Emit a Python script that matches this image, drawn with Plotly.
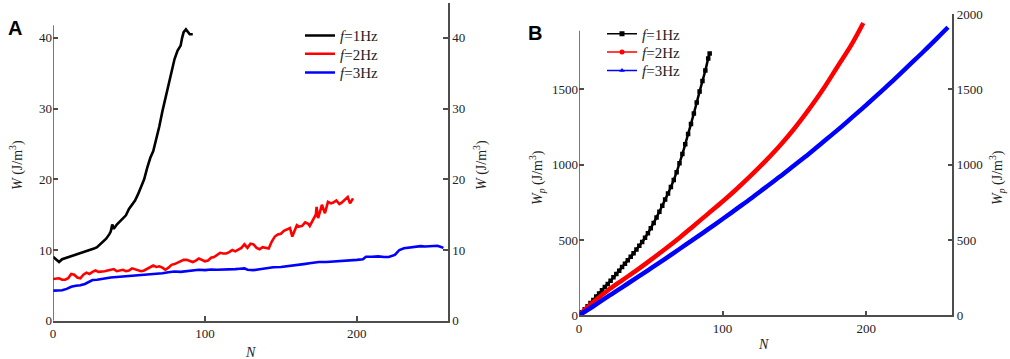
import plotly.graph_objects as go

# ---------------- Panel A data ----------------
N_A1 = [0, 2, 4, 6, 9, 12, 15, 18, 21, 24, 27, 29, 31, 33, 35, 37, 38, 39, 40, 42, 44, 46, 48, 50,
        52, 54, 56, 58, 60, 62, 64, 66, 68, 70, 72, 74, 76, 78, 80, 82, 84, 85, 86, 87.5, 89, 90, 92]
W_A1 = [9.05, 8.6, 8.3, 8.7, 8.9, 9.1, 9.3, 9.5, 9.7, 10.0, 10.2, 10.4, 10.8, 11.3, 11.6, 12.2, 12.6,
        13.6, 13.0, 13.6, 14.0, 14.4, 14.9, 15.8, 16.4, 17.0, 17.9, 18.9, 20.0, 21.6, 23.0, 24.0, 25.6,
        27.5, 29.6, 31.5, 33.2, 35.0, 37.0, 38.2, 38.9, 40.0, 40.8, 41.2, 40.8, 40.5, 40.5]

N_A2 = [0, 2, 4, 6, 8, 10, 12, 14, 16, 18, 20, 22, 24, 26, 28, 30, 32, 34, 36, 38, 40, 42, 44, 46, 48,
        50, 52, 54, 56, 58, 60, 62, 64, 66, 68, 70, 72, 74, 76, 78, 80, 82, 84, 86, 88, 90, 92, 94, 96,
        98, 100, 102, 104, 106, 108, 110, 112, 114, 116, 118, 120, 122, 124, 126, 128, 130, 132, 134,
        136, 138, 140, 142, 144, 146, 148, 150, 152, 154, 156, 157.5, 159, 160.5, 162, 164, 166, 168,
        169, 171, 173, 173.5, 174.5, 176, 177, 179, 181, 183, 184.5, 186.5, 188.5, 190, 192, 194,
        195.5, 197.5]
W_A2 = [5.9, 5.9, 6.0, 5.8, 5.8, 6.0, 6.6, 6.5, 6.1, 6.0, 6.5, 6.8, 6.6, 6.9, 7.1, 6.9, 6.9, 7.0, 7.1,
        7.2, 7.3, 7.0, 7.1, 7.2, 7.0, 7.1, 7.4, 7.3, 7.1, 7.0, 7.1, 7.3, 7.5, 7.8, 7.6, 7.7, 7.5, 7.2,
        7.5, 7.9, 8.0, 8.2, 8.4, 8.6, 8.6, 8.4, 8.3, 8.5, 8.8, 8.6, 8.4, 8.5, 8.9, 9.0, 9.3, 9.6, 9.5,
        9.5, 9.7, 10.0, 9.8, 10.1, 10.3, 10.8, 10.3, 10.9, 10.8, 10.3, 10.1, 10.4, 10.3, 10.2, 11.2,
        11.9, 12.2, 12.3, 12.7, 12.9, 13.1, 11.9, 12.8, 13.5, 13.3, 13.4, 13.9, 13.7, 13.4, 14.3, 15.0,
        16.1, 14.5, 15.6, 16.4, 15.2, 16.8, 16.6, 16.7, 17.0, 16.5, 16.7, 17.1, 17.5, 16.6, 17.3]

N_A3 = [0, 3, 6, 9, 12, 15, 18, 21, 23, 26, 29, 32, 35, 38, 41, 44, 48, 52, 56, 60, 64, 68, 72, 76, 80,
        84, 88, 92, 96, 100, 104, 108, 112, 116, 120, 123, 126, 128, 132, 136, 140, 145, 150, 155, 160,
        165, 170, 175, 180, 185, 190, 195, 200, 204, 206, 210, 214, 218, 221, 225, 228, 231, 234, 237,
        240, 242, 245, 248, 250, 253, 255, 257]
W_A3 = [4.25, 4.25, 4.3, 4.5, 4.8, 4.95, 5.0, 5.2, 5.4, 5.75, 5.8, 5.85, 6.0, 6.1, 6.15, 6.2, 6.25,
        6.35, 6.4, 6.5, 6.6, 6.6, 6.7, 6.85, 6.95, 6.9, 7.0, 7.05, 7.2, 7.15, 7.25, 7.2, 7.2, 7.3, 7.3,
        7.35, 7.4, 7.2, 7.15, 7.27, 7.4, 7.55, 7.6, 7.7, 7.85, 8.0, 8.15, 8.3, 8.3, 8.35, 8.4, 8.5, 8.6,
        8.7, 9.05, 9.05, 9.1, 9.0, 9.0, 9.3, 10.0, 10.25, 10.35, 10.4, 10.45, 10.55, 10.5, 10.55,
        10.65, 10.6, 10.45, 10.3]

# ---------------- Panel B data ----------------
N_B1 = [0, 2, 4, 6, 8, 10, 12, 14, 16, 18, 20, 22, 24, 26, 28, 30, 32, 34, 36, 38, 40, 42, 44, 46,
        48, 50, 52, 54, 56, 58, 60, 62, 64, 66, 68, 70, 72, 74, 76, 78, 80, 82, 84, 86, 88, 90, 91]
W_B1 = [0, 20, 40, 60, 81, 102, 124, 145, 166, 188, 208, 229, 252, 274, 296, 320, 343, 366, 388, 412,
        437, 462, 487, 515, 545, 578, 613, 650, 688, 728, 768, 809, 852, 898, 950, 1010, 1070, 1136,
        1204, 1270, 1340, 1412, 1485, 1555, 1625, 1705, 1738]

N_B2 = [0, 5, 10, 20, 30, 40, 50, 60, 70, 80, 90, 100, 110, 120, 130, 140, 150, 160, 170, 180, 190, 198]
W_B2 = [0, 45, 88, 165, 232, 298, 368, 440, 515, 595, 675, 755, 840, 930, 1025, 1127, 1240, 1365,
        1500, 1650, 1800, 1940]

N_B3 = [0, 10, 20, 30, 40, 50, 60, 70, 80, 90, 100, 110, 120, 130, 140, 150, 160, 170, 180, 190, 200,
        210, 220, 230, 240, 250, 257]
W_B3 = [0, 60, 124, 186, 248, 311, 375, 440, 505, 572, 639, 708, 777, 849, 921, 996, 1071, 1150, 1229,
        1312, 1395, 1482, 1569, 1660, 1751, 1845, 1912]

names = ["<i>f</i>=1Hz", "<i>f</i>=2Hz", "<i>f</i>=3Hz"]
colors = ["#000000", "#ff0000", "#0000ff"]
symbols = ["square", "circle", "triangle-up"]

W_px, H_px = 1010, 359
SERIF = "Liberation Serif"
AX = "#4d4d4d"
TXT = "#222222"

fig = go.Figure()

# legend item positions (pixels, text start x / row centre y)
legA_x, legA_y = 341, [35.7, 54.0, 72.7]
legB_x, legB_y = 643, [34.0, 52.3, 70.7]
legA_ids = ["legend", "legend2", "legend3"]
legB_ids = ["legend4", "legend5", "legend6"]

# Panel A
for xs, ys, nm, c, lg in zip([N_A1, N_A2, N_A3], [W_A1, W_A2, W_A3], names, colors, legA_ids):
    fig.add_trace(go.Scatter(x=xs, y=ys, mode="lines", name=nm, line=dict(color=c, width=2.6),
                             xaxis="x", yaxis="y", legend=lg))
fig.add_trace(go.Scatter(x=[None], y=[None], mode="lines", xaxis="x", yaxis="y2",
                         showlegend=False, hoverinfo="skip"))

# Panel B
fig.add_trace(go.Scatter(x=N_B1, y=W_B1, mode="lines+markers",
                         line=dict(color=colors[0], width=2.5, shape="spline"),
                         marker=dict(symbol="square", size=4.5, color=colors[0]),
                         xaxis="x2", yaxis="y3", showlegend=False))
fig.add_trace(go.Scatter(x=N_B2, y=W_B2, mode="lines", line=dict(color=colors[1], width=4.5, shape="spline"),
                         xaxis="x2", yaxis="y3", showlegend=False))
fig.add_trace(go.Scatter(x=N_B3, y=W_B3, mode="lines", line=dict(color=colors[2], width=4.5, shape="spline"),
                         xaxis="x2", yaxis="y3", showlegend=False))
for nm, c, s, lg in zip(names, colors, symbols, legB_ids):
    fig.add_trace(go.Scatter(x=[None], y=[None], mode="lines+markers", name=nm,
                             line=dict(color=c, width=1.5), marker=dict(symbol=s, size=5, color=c),
                             xaxis="x2", yaxis="y4", legend=lg))

def tickfont():
    return dict(family=SERIF, size=13, color=TXT)

def xax(**kw):
    return dict(showgrid=False, zeroline=False, showline=True, linecolor=AX, linewidth=1.5,
                ticks="inside", ticklen=5, tickcolor=AX, tickwidth=1.5, tickfont=tickfont(), **kw)

def yax(**kw):
    return dict(showgrid=False, zeroline=False, ticks="inside", ticklen=5, tickcolor=AX,
                tickwidth=1.5, tickfont=tickfont(), **kw)

domA_x = [53 / W_px, 448 / W_px]
domB_x = [579 / W_px, 952.3 / W_px]
domA_y = [1 - 320.7 / H_px, 1 - 2.5 / H_px]
domB_y = [1 - 315.3 / H_px, 1 - 14 / H_px]

layout = dict(
    width=W_px, height=H_px, margin=dict(l=0, r=0, t=0, b=0, autoexpand=False),
    paper_bgcolor="white", plot_bgcolor="white", showlegend=True,
    font=dict(family=SERIF, size=13, color=TXT),
    xaxis=xax(domain=domA_x, range=[0, 260], tickvals=[0, 100, 200], anchor="y"),
    yaxis=yax(domain=domA_y, range=[0, 45], tickvals=[0, 10, 20, 30, 40], anchor="x", showline=False),
    yaxis2=yax(range=[0, 45], tickvals=[0, 10, 20, 30, 40], overlaying="y", side="right", anchor="x",
               showline=True, linecolor=AX, linewidth=1.5),
    xaxis2=xax(domain=domB_x, range=[0, 260], tickvals=[0, 100, 200], anchor="y3"),
    yaxis3=yax(domain=domB_y, range=[0, 2000], tickvals=[0, 500, 1000, 1500], anchor="x2", showline=False),
    yaxis4=yax(range=[0, 2000], tickvals=[0, 500, 1000, 1500, 2000], overlaying="y3", side="right",
               anchor="x2", showline=True, linecolor=AX, linewidth=1.5),
)
legfont = dict(family=SERIF, size=15, color=TXT)
for lg, yy in zip(legA_ids, legA_y):
    layout[lg] = dict(x=(legA_x - 41) / W_px, y=1 - yy / H_px, xanchor="left", yanchor="middle",
                      bgcolor="rgba(0,0,0,0)", font=legfont, itemwidth=30)
for lg, yy in zip(legB_ids, legB_y):
    layout[lg] = dict(x=(legB_x - 41) / W_px, y=1 - yy / H_px, xanchor="left", yanchor="middle",
                      bgcolor="rgba(0,0,0,0)", font=legfont, itemwidth=30)
fig.update_layout(**layout)

# shortened left axis lines
fig.add_shape(type="line", xref="x", yref="y", x0=0, x1=0, y0=0, y1=41.8,
              line=dict(color=AX, width=1.5))
fig.add_shape(type="line", xref="x2", yref="y3", x0=0, x1=0, y0=0, y1=1889,
              line=dict(color=AX, width=1.5))

titlefont = dict(family=SERIF, size=14, color=TXT)

def ann(text, x, y, angle=0, font=titlefont):
    fig.add_annotation(text=text, x=x / W_px, y=1 - y / H_px, xref="paper", yref="paper",
                       showarrow=False, textangle=angle, font=font, xanchor="center", yanchor="middle")

ann("<i>W</i> (J/m<sup>3</sup>)", 17, 165, -90)
ann("<i>W</i> (J/m<sup>3</sup>)", 481, 165, -90)
ann("<i>W</i><sub><i>p</i></sub> (J/m<sup>3</sup>)", 537, 178, -90)
ann("<i>W</i><sub><i>p</i></sub> (J/m<sup>3</sup>)", 997, 178, -90)
ann("<i>N</i>", 250, 352)
ann("<i>N</i>", 763, 344)
letter = dict(family="Liberation Sans", size=20, color="black")
ann("<b>A</b>", 14.5, 28, 0, letter)
ann("<b>B</b>", 534.7, 33.3, 0, letter)

fig.write_html("out.html", config={"displayModeBar": False},
               post_script="document.body.style.margin='0';document.body.style.overflow='hidden';")
